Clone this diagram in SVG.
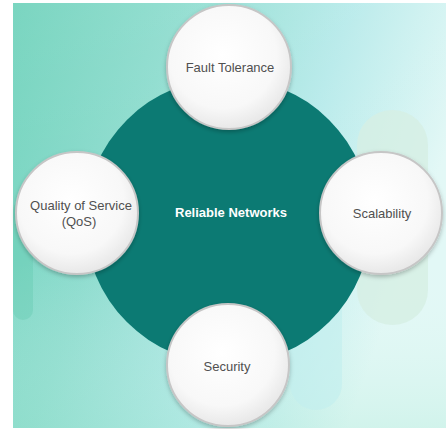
<svg xmlns="http://www.w3.org/2000/svg" width="446" height="429" viewBox="0 0 446 429">
  <defs>
    <linearGradient id="bg" x1="0" y1="0" x2="1" y2="0.35">
      <stop offset="0" stop-color="#6fd2bb"/>
      <stop offset="0.35" stop-color="#8ddcce"/>
      <stop offset="0.7" stop-color="#b6eaea"/>
      <stop offset="1" stop-color="#e2f8f6"/>
    </linearGradient>
    <linearGradient id="bgv" x1="0" y1="0" x2="0" y2="1">
      <stop offset="0" stop-color="#ffffff" stop-opacity="0.08"/>
      <stop offset="0.6" stop-color="#ffffff" stop-opacity="0"/>
      <stop offset="1" stop-color="#9fe6cc" stop-opacity="0.25"/>
    </linearGradient>
    <radialGradient id="ball" cx="0.45" cy="0.4" r="0.62">
      <stop offset="0" stop-color="#ffffff"/>
      <stop offset="0.7" stop-color="#f8f8f8"/>
      <stop offset="1" stop-color="#e6e6e6"/>
    </radialGradient>
    <filter id="sh" x="-20%" y="-20%" width="140%" height="140%">
      <feDropShadow dx="0" dy="2" stdDeviation="2" flood-color="#000" flood-opacity="0.25"/>
    </filter>
  </defs>
  <style>
    .node circle { fill: url(#ball); stroke: #c6c6c6; stroke-width: 2; filter: url(#sh); }
    .lbl { font-family: "Liberation Sans", Arial, sans-serif; font-size: 13px; fill: #505050; text-anchor: middle; }
    .hub { font-family: "Liberation Sans", Arial, sans-serif; font-size: 13px; font-weight: bold; fill: #ffffff; text-anchor: middle; }
  </style>

  <rect x="0" y="0" width="446" height="429" fill="#ffffff"/>
  <g id="background">
    <rect x="13" y="3" width="433" height="425" fill="url(#bg)"/>
    <rect x="13" y="3" width="433" height="425" fill="url(#bgv)"/>
    <rect x="13" y="200" width="20" height="120" rx="10" fill="#5fc9ad" opacity="0.35"/>
    <rect x="357" y="110" width="71" height="215" rx="35" fill="#d6efe4" opacity="0.8"/>
    <rect x="290" y="230" width="52" height="180" rx="26" fill="#c2efef" opacity="0.6"/>
  </g>

  <g id="connectors"></g>

  <g id="hub">
    <circle cx="228" cy="221" r="143" fill="#0c7a73"/>
    <text class="hub" x="231" y="217">Reliable Networks</text>
  </g>

  <g id="fault-tolerance" class="node">
    <circle cx="229" cy="67" r="62"/>
    <text class="lbl" x="230" y="72">Fault Tolerance</text>
  </g>

  <g id="qos" class="node">
    <circle cx="77" cy="213" r="61"/>
    <text class="lbl" x="81" y="210">Quality of Service</text>
    <text class="lbl" x="79" y="226">(QoS)</text>
  </g>

  <g id="scalability" class="node">
    <circle cx="381" cy="213" r="61"/>
    <text class="lbl" x="382" y="218">Scalability</text>
  </g>

  <g id="security" class="node">
    <circle cx="228" cy="365" r="61"/>
    <text class="lbl" x="227" y="371">Security</text>
  </g>
</svg>
